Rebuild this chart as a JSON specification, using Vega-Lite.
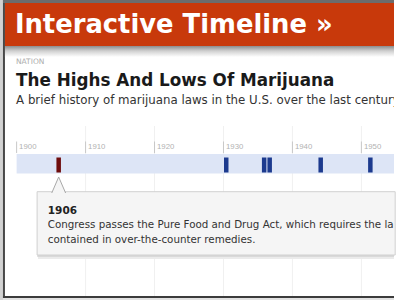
{
  "$schema": "https://vega.github.io/schema/vega-lite/v6.json",
  "width": 396,
  "height": 300,
  "padding": 0,
  "autosize": {"type": "fit", "contains": "padding"},
  "background": "white",
  "config": {"view": {"stroke": null}},
  "datasets": {
    "events": [
      {"year": 1906.1, "state": "current"},
      {"year": 1930.4, "state": "other"},
      {"year": 1935.9, "state": "other"},
      {"year": 1936.7, "state": "other"},
      {"year": 1944.1, "state": "other"},
      {"year": 1951.3, "state": "other"}
    ],
    "decades": [
      {"year": 1900}, {"year": 1910}, {"year": 1920}, {"year": 1930}, {"year": 1940}, {"year": 1950}
    ],
    "one": [{"k": 1}]
  },
  "layer": [
    {
      "data": {"name": "one"},
      "mark": {"type": "rect", "color": "#d2d2d2"},
      "encoding": {
        "x": {"datum": 1897.59, "type": "quantitative", "scale": {"domain": [1897.59, 1954.73], "nice": false, "zero": false}, "axis": null},
        "x2": {"datum": 1898.02},
        "y": {"datum": 0, "type": "quantitative", "scale": {"domain": [0, 300], "reverse": true, "nice": false, "zero": false}, "axis": null},
        "y2": {"datum": 300}
      }
    },
    {
      "data": {"name": "one"},
      "mark": {"type": "rect", "color": "#484848"},
      "encoding": {
        "x": {"datum": 1898.02, "type": "quantitative", "scale": {"domain": [1897.59, 1954.73], "nice": false, "zero": false}, "axis": null},
        "x2": {"datum": 1898.31},
        "y": {"datum": 0, "type": "quantitative", "scale": {"domain": [0, 300], "reverse": true, "nice": false, "zero": false}, "axis": null},
        "y2": {"datum": 298}
      }
    },
    {
      "data": {"name": "one"},
      "mark": {"type": "rect", "color": "#6c6c6c"},
      "encoding": {
        "x": {"datum": 1898.02, "type": "quantitative", "scale": {"domain": [1897.59, 1954.73], "nice": false, "zero": false}, "axis": null},
        "x2": {"datum": 1954.73},
        "y": {"datum": 0, "type": "quantitative", "scale": {"domain": [0, 300], "reverse": true, "nice": false, "zero": false}, "axis": null},
        "y2": {"datum": 3}
      }
    },
    {
      "data": {"name": "one"},
      "mark": {"type": "rect", "color": "#3c3c3c"},
      "encoding": {
        "x": {"datum": 1898.02, "type": "quantitative", "scale": {"domain": [1897.59, 1954.73], "nice": false, "zero": false}, "axis": null},
        "x2": {"datum": 1954.73},
        "y": {"datum": 296, "type": "quantitative", "scale": {"domain": [0, 300], "reverse": true, "nice": false, "zero": false}, "axis": null},
        "y2": {"datum": 298}
      }
    },
    {
      "data": {"name": "one"},
      "mark": {"type": "rect", "color": "#e2e2e2"},
      "encoding": {
        "x": {"datum": 1898.02, "type": "quantitative", "scale": {"domain": [1897.59, 1954.73], "nice": false, "zero": false}, "axis": null},
        "x2": {"datum": 1954.73},
        "y": {"datum": 298, "type": "quantitative", "scale": {"domain": [0, 300], "reverse": true, "nice": false, "zero": false}, "axis": null},
        "y2": {"datum": 300}
      }
    },
    {
      "data": {"name": "one"},
      "mark": {"type": "rect", "color": "#c8390b"},
      "encoding": {
        "x": {"datum": 1898.31, "type": "quantitative", "scale": {"domain": [1897.59, 1954.73], "nice": false, "zero": false}, "axis": null},
        "x2": {"datum": 1954.73},
        "y": {"datum": 3, "type": "quantitative", "scale": {"domain": [0, 300], "reverse": true, "nice": false, "zero": false}, "axis": null},
        "y2": {"datum": 46}
      }
    },
    {
      "data": {"name": "one"},
      "mark": {"type": "rect", "color": {"gradient": "linear", "x1": 0, "y1": 0, "x2": 0, "y2": 1, "stops": [{"offset": 0, "color": "#8c8c8c"}, {"offset": 0.45, "color": "#d0d0d0"}, {"offset": 1, "color": "#ffffff"}]}},
      "encoding": {
        "x": {"datum": 1898.31, "type": "quantitative", "scale": {"domain": [1897.59, 1954.73], "nice": false, "zero": false}, "axis": null},
        "x2": {"datum": 1954.73},
        "y": {"datum": 46, "type": "quantitative", "scale": {"domain": [0, 300], "reverse": true, "nice": false, "zero": false}, "axis": null},
        "y2": {"datum": 57}
      }
    },
    {
      "data": {"name": "decades"},
      "transform": [{"filter": "datum.year > 1900"}],
      "mark": {"type": "rule", "color": "#f0f0f0", "strokeWidth": 1},
      "encoding": {
        "x": {"field": "year", "type": "quantitative", "scale": {"domain": [1897.59, 1954.73], "nice": false, "zero": false}, "axis": null},
        "y": {"datum": 126, "type": "quantitative", "scale": {"domain": [0, 300], "reverse": true, "nice": false, "zero": false}, "axis": null},
        "y2": {"datum": 296}
      }
    },
    {
      "data": {"name": "decades"},
      "mark": {"type": "rule", "color": "#c8c8c8", "strokeWidth": 1},
      "encoding": {
        "x": {"field": "year", "type": "quantitative", "scale": {"domain": [1897.59, 1954.73], "nice": false, "zero": false}, "axis": null},
        "y": {"datum": 141.5, "type": "quantitative", "scale": {"domain": [0, 300], "reverse": true, "nice": false, "zero": false}, "axis": null},
        "y2": {"datum": 153}
      }
    },
    {
      "data": {"name": "decades"},
      "mark": {"type": "text", "font": "Liberation Sans", "fontSize": 7.8, "color": "#b2b2b2", "align": "left", "baseline": "alphabetic", "dx": 2.5},
      "encoding": {
        "x": {"field": "year", "type": "quantitative", "scale": {"domain": [1897.59, 1954.73], "nice": false, "zero": false}, "axis": null},
        "y": {"datum": 148.5, "type": "quantitative", "scale": {"domain": [0, 300], "reverse": true, "nice": false, "zero": false}, "axis": null},
        "text": {"field": "year", "type": "quantitative", "format": "d"}
      }
    },
    {
      "data": {"name": "one"},
      "mark": {"type": "rect", "color": "#dde5f6"},
      "encoding": {
        "x": {"datum": 1900, "type": "quantitative", "scale": {"domain": [1897.59, 1954.73], "nice": false, "zero": false}, "axis": null},
        "x2": {"datum": 1954.73},
        "y": {"datum": 154, "type": "quantitative", "scale": {"domain": [0, 300], "reverse": true, "nice": false, "zero": false}, "axis": null},
        "y2": {"datum": 173.5}
      }
    },
    {
      "data": {"name": "events"},
      "mark": {"type": "rule", "strokeWidth": 4.5},
      "encoding": {
        "x": {"field": "year", "type": "quantitative", "scale": {"domain": [1897.59, 1954.73], "nice": false, "zero": false}, "axis": null},
        "y": {"datum": 157.5, "type": "quantitative", "scale": {"domain": [0, 300], "reverse": true, "nice": false, "zero": false}, "axis": null},
        "y2": {"datum": 172.5},
        "color": {"field": "state", "type": "nominal", "scale": {"domain": ["current", "other"], "range": ["#6e0c0c", "#1c3a8e"]}, "legend": null}
      }
    },
    {
      "data": {"name": "one"},
      "mark": {"type": "rect", "color": "#ebebeb"},
      "encoding": {
        "x": {"datum": 1903.1, "type": "quantitative", "scale": {"domain": [1897.59, 1954.73], "nice": false, "zero": false}, "axis": null},
        "x2": {"datum": 1954.73},
        "y": {"datum": 194, "type": "quantitative", "scale": {"domain": [0, 300], "reverse": true, "nice": false, "zero": false}, "axis": null},
        "y2": {"datum": 259}
      }
    },
    {
      "data": {"name": "one"},
      "mark": {"type": "rect", "color": "#d9d9d9"},
      "encoding": {
        "x": {"datum": 1903.0, "type": "quantitative", "scale": {"domain": [1897.59, 1954.73], "nice": false, "zero": false}, "axis": null},
        "x2": {"datum": 1954.73},
        "y": {"datum": 193, "type": "quantitative", "scale": {"domain": [0, 300], "reverse": true, "nice": false, "zero": false}, "axis": null},
        "y2": {"datum": 257}
      }
    },
    {
      "data": {"name": "one"},
      "mark": {"type": "rect", "fill": "#f5f5f5", "stroke": "#d0d0d0", "strokeWidth": 1},
      "encoding": {
        "x": {"datum": 1902.97, "type": "quantitative", "scale": {"domain": [1897.59, 1954.73], "nice": false, "zero": false}, "axis": null},
        "x2": {"datum": 1954.9},
        "y": {"datum": 191.7, "type": "quantitative", "scale": {"domain": [0, 300], "reverse": true, "nice": false, "zero": false}, "axis": null},
        "y2": {"datum": 255}
      }
    },
    {
      "data": {"name": "events"},
      "transform": [{"filter": "datum.state === 'current'"}],
      "mark": {"type": "point", "shape": "M-0.867,1L0,-1L0.867,1", "size": 256, "filled": false, "fill": "#f5f5f5", "fillOpacity": 1, "stroke": "#a8a8a8", "strokeWidth": 1, "opacity": 1},
      "encoding": {
        "x": {"field": "year", "type": "quantitative", "scale": {"domain": [1897.59, 1954.73], "nice": false, "zero": false}, "axis": null},
        "y": {"datum": 185, "type": "quantitative", "scale": {"domain": [0, 300], "reverse": true, "nice": false, "zero": false}, "axis": null}
      }
    },
    {
      "data": {"values": [{"t": "Interactive Timeline »"}]},
      "mark": {"type": "text", "font": "DejaVu Sans", "fontWeight": "bold", "fontSize": 25.8, "color": "#ffffff", "align": "left", "baseline": "alphabetic"},
      "encoding": {
        "x": {"datum": 1899.75, "type": "quantitative", "scale": {"domain": [1897.59, 1954.73], "nice": false, "zero": false}, "axis": null},
        "y": {"datum": 33.3, "type": "quantitative", "scale": {"domain": [0, 300], "reverse": true, "nice": false, "zero": false}, "axis": null},
        "text": {"field": "t"}
      }
    },
    {
      "data": {"values": [{"t": "NATION"}]},
      "mark": {"type": "text", "font": "DejaVu Sans", "fontSize": 7.5, "color": "#adadad", "align": "left", "baseline": "alphabetic"},
      "encoding": {
        "x": {"datum": 1899.9, "type": "quantitative", "scale": {"domain": [1897.59, 1954.73], "nice": false, "zero": false}, "axis": null},
        "y": {"datum": 63.5, "type": "quantitative", "scale": {"domain": [0, 300], "reverse": true, "nice": false, "zero": false}, "axis": null},
        "text": {"field": "t"}
      }
    },
    {
      "data": {"values": [{"t": "The Highs And Lows Of Marijuana"}]},
      "mark": {"type": "text", "font": "DejaVu Sans", "fontWeight": "bold", "fontSize": 16.8, "color": "#1a1a1a", "align": "left", "baseline": "alphabetic"},
      "encoding": {
        "x": {"datum": 1899.92, "type": "quantitative", "scale": {"domain": [1897.59, 1954.73], "nice": false, "zero": false}, "axis": null},
        "y": {"datum": 86, "type": "quantitative", "scale": {"domain": [0, 300], "reverse": true, "nice": false, "zero": false}, "axis": null},
        "text": {"field": "t"}
      }
    },
    {
      "data": {"values": [{"t": "A brief history of marijuana laws in the U.S. over the last century"}]},
      "mark": {"type": "text", "font": "DejaVu Sans", "fontSize": 11.8, "color": "#333333", "align": "left", "baseline": "alphabetic", "clip": true},
      "encoding": {
        "x": {"datum": 1899.92, "type": "quantitative", "scale": {"domain": [1897.59, 1954.73], "nice": false, "zero": false}, "axis": null},
        "y": {"datum": 103.5, "type": "quantitative", "scale": {"domain": [0, 300], "reverse": true, "nice": false, "zero": false}, "axis": null},
        "text": {"field": "t"}
      }
    },
    {
      "data": {"values": [{"t": "1906"}]},
      "mark": {"type": "text", "font": "DejaVu Sans", "fontWeight": "bold", "fontSize": 10.5, "color": "#222222", "align": "left", "baseline": "alphabetic"},
      "encoding": {
        "x": {"datum": 1904.52, "type": "quantitative", "scale": {"domain": [1897.59, 1954.73], "nice": false, "zero": false}, "axis": null},
        "y": {"datum": 213.5, "type": "quantitative", "scale": {"domain": [0, 300], "reverse": true, "nice": false, "zero": false}, "axis": null},
        "text": {"field": "t"}
      }
    },
    {
      "data": {"values": [{"t": "Congress passes the Pure Food and Drug Act, which requires the labeling of any cannabis\ncontained in over-the-counter remedies."}]},
      "mark": {"type": "text", "font": "DejaVu Sans", "fontSize": 10.3, "color": "#333333", "align": "left", "baseline": "alphabetic", "lineBreak": "\n", "lineHeight": 15, "clip": true},
      "encoding": {
        "x": {"datum": 1904.52, "type": "quantitative", "scale": {"domain": [1897.59, 1954.73], "nice": false, "zero": false}, "axis": null},
        "y": {"datum": 227.7, "type": "quantitative", "scale": {"domain": [0, 300], "reverse": true, "nice": false, "zero": false}, "axis": null},
        "text": {"field": "t"}
      }
    }
  ]
}
